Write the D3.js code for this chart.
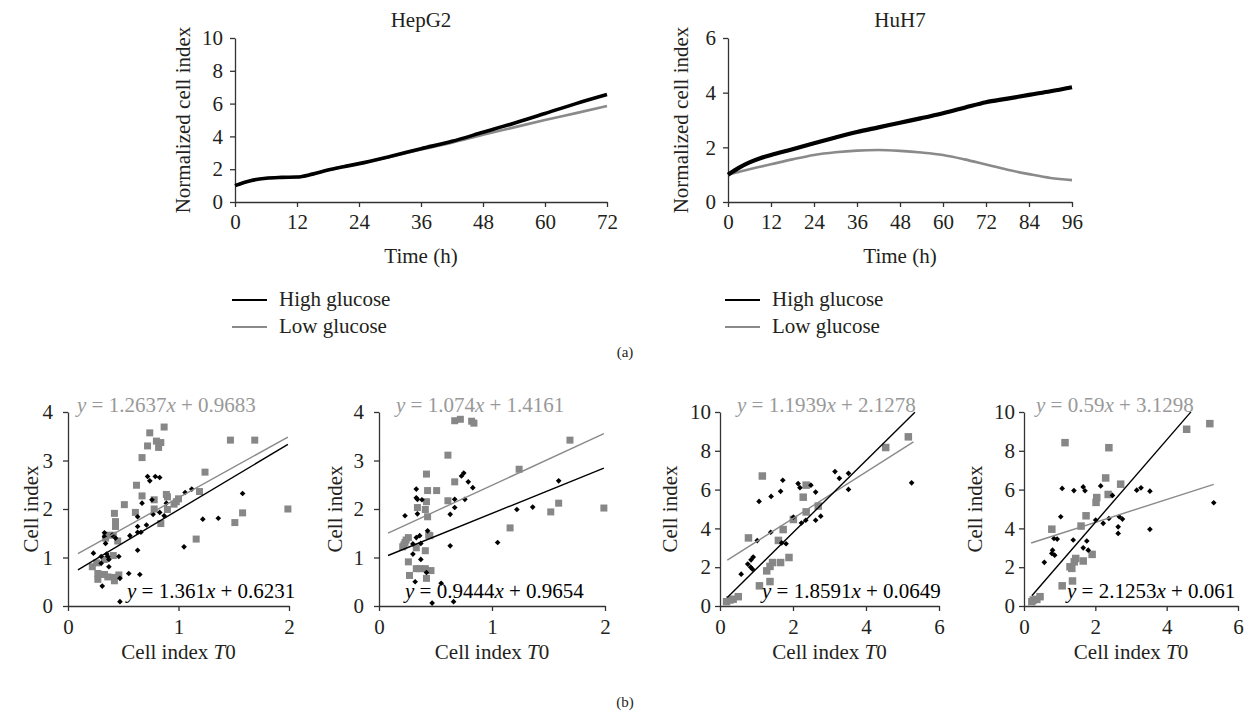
<!DOCTYPE html>
<html>
<head>
<meta charset="utf-8">
<script src="https://cdn.jsdelivr.net/npm/d3@7"></script>
<style>
  body { margin: 0; background: #fff; }
  svg text { font-family: "Liberation Serif", "DejaVu Serif", serif; }
</style>
</head>
<body>
<div id="chart"></div>
<script>
// ---------- data (a) ----------
const hepTime = [0, 3, 6, 9, 12, 15, 18, 21, 24, 30, 36, 42, 48, 54, 60, 66, 72]
const hepHigh = [1.0, 1.3, 1.45, 1.5, 1.52, 1.7, 1.95, 2.15, 2.34, 2.78, 3.25, 3.7, 4.25, 4.8, 5.4, 6.0, 6.55]
const hepLow  = [1.0, 1.3, 1.45, 1.5, 1.52, 1.7, 1.95, 2.15, 2.34, 2.76, 3.2, 3.62, 4.1, 4.55, 5.0, 5.42, 5.85]

const huhTime = [0, 3, 6, 9, 12, 18, 24, 30, 36, 42, 48, 54, 60, 66, 72, 78, 84, 90, 96]
const huhHigh = [1.0, 1.25, 1.45, 1.6, 1.72, 1.93, 2.15, 2.36, 2.56, 2.73, 2.9, 3.07, 3.25, 3.45, 3.65, 3.78, 3.92, 4.05, 4.2]
const huhLow  = [1.0, 1.1, 1.2, 1.29, 1.38, 1.56, 1.72, 1.82, 1.88, 1.9, 1.87, 1.81, 1.72, 1.56, 1.37, 1.18, 1.02, 0.88, 0.8]

const legendLabels = ["High glucose", "Low glucose"]

// ---------- data (b) ----------
const p1Black = [[0.72,2.67],[0.79,2.67],[0.83,2.65],[0.74,2.58],[1.06,2.34],[1.12,2.41],[1.58,2.32],[0.67,2.12],
  [0.76,2.19],[0.89,2.12],[0.63,1.84],[0.77,1.89],[0.83,1.93],[0.87,1.86],[1.22,1.79],[1.36,1.81],[0.71,1.67],
  [0.63,1.64],[0.63,1.52],[0.66,1.52],[0.56,1.45],[0.33,1.51],[0.33,1.43],[0.34,1.29],[0.40,1.46],[0.43,1.40],
  [0.63,1.15],[1.05,1.22],[0.23,1.09],[0.30,1.02],[0.35,1.07],[0.36,1.02],[0.46,1.02],[0.37,0.96],[0.30,0.88],
  [0.37,0.81],[0.47,0.57],[0.55,0.67],[0.65,0.65],[0.31,0.41],[0.47,0.09]]
const p1Gray = [[0.74,3.57],[0.87,3.69],[0.72,3.30],[0.80,3.40],[0.84,3.37],[0.82,3.27],[0.67,3.06],[1.47,3.42],
  [1.69,3.42],[1.99,2.0],[1.24,2.76],[0.62,2.49],[0.67,2.27],[0.78,2.19],[0.89,2.30],[0.90,2.25],[1.00,2.21],
  [0.98,2.15],[0.96,2.10],[0.90,1.99],[0.78,2.0],[0.61,1.93],[0.51,2.09],[0.42,1.91],[0.43,1.74],[0.43,1.64],
  [0.84,1.70],[1.19,2.36],[1.51,1.72],[1.58,1.92],[1.16,1.38],[0.41,1.46],[0.34,1.40],[0.45,1.34],[0.41,1.04],
  [0.33,0.96],[0.26,0.89],[0.22,0.81],[0.27,0.67],[0.27,0.55],[0.33,0.65],[0.36,0.60],[0.42,0.59],[0.42,0.52],
  [0.46,0.64],[0.35,1.46]]
const p1Fit = { black: [1.361, 0.6231], gray: [1.2637, 0.9683] }

const p2Black = [[0.75,2.74],[0.73,2.68],[0.79,2.56],[0.83,2.44],[0.33,2.41],[0.33,2.23],[0.34,2.20],[0.38,2.19],
  [0.23,1.86],[0.34,1.90],[0.67,2.20],[0.67,2.03],[0.76,2.20],[0.63,1.89],[0.43,1.55],[0.33,1.41],[0.36,1.45],
  [0.30,1.28],[0.37,1.29],[0.63,1.24],[1.05,1.31],[1.22,1.99],[1.36,2.04],[1.59,2.58],[0.30,1.07],[0.37,0.96],
  [0.42,0.69],[0.32,0.50],[0.55,0.47],[0.47,0.06],[0.66,0.09]]
const p2Gray = [[0.67,3.82],[0.72,3.85],[0.82,3.81],[0.84,3.77],[0.61,3.11],[0.67,2.56],[0.42,2.72],[0.43,2.38],
  [0.51,2.38],[0.61,2.17],[0.34,2.03],[0.42,2.15],[0.41,1.99],[0.43,1.84],[0.44,1.46],[0.45,1.45],[0.26,1.41],
  [0.24,1.36],[0.23,1.31],[0.22,1.26],[0.21,1.22],[0.33,1.20],[0.41,1.14],[0.26,0.91],[0.33,0.77],[0.36,0.77],
  [0.41,0.77],[0.46,0.73],[0.27,0.63],[0.42,0.57],[1.24,2.82],[1.16,1.61],[1.52,1.94],[1.59,2.12],[1.69,3.42],
  [1.99,2.02]]
const p2Fit = { black: [0.9444, 0.9654], gray: [1.074, 1.4161] }

const p3Black = [[1.07,5.39],[1.40,5.65],[1.66,5.91],[1.72,6.48],[2.14,6.31],[2.19,6.10],[2.49,6.23],[2.62,5.87],
  [3.15,6.93],[3.27,6.58],[3.52,6.84],[3.52,6.01],[2.01,4.58],[2.23,4.28],[2.35,4.42],[2.62,4.42],[2.76,4.63],
  [1.39,3.80],[1.02,3.37],[1.69,3.25],[1.81,3.21],[0.91,2.52],[0.85,2.38],[0.76,2.16],[0.84,2.00],[0.89,1.90],
  [0.58,1.64],[5.25,6.35]]
const p3Gray = [[1.16,6.70],[0.78,3.51],[2.01,4.46],[1.73,3.94],[1.60,3.38],[2.36,6.23],[2.28,5.61],[2.69,5.15],
  [2.36,4.85],[1.89,2.50],[1.66,2.24],[1.44,2.24],[1.37,2.04],[1.28,1.81],[1.08,1.04],[1.37,1.26],[5.16,8.72],
  [4.54,8.17],[0.50,0.48],[0.27,0.31],[0.18,0.22],[0.36,0.35]]
const p3Fit = { black: [1.8591, 0.0649], gray: [1.1939, 2.1278] }

const p4Black = [[1.07,6.06],[1.40,5.95],[1.66,6.14],[1.71,5.94],[2.15,6.19],[2.48,5.70],[3.16,5.97],[3.28,6.09],
  [3.53,5.92],[5.32,5.32],[3.53,3.95],[1.03,4.60],[2.01,4.43],[2.22,4.26],[2.38,4.51],[2.67,4.60],[2.76,4.48],
  [2.64,4.08],[2.64,3.74],[0.84,3.48],[0.93,3.45],[1.38,3.40],[1.76,3.35],[1.66,3.00],[1.80,2.88],[0.80,2.88],
  [0.78,2.71],[0.86,2.62],[0.57,2.25]]
const p4Gray = [[1.15,8.42],[2.38,8.16],[4.56,9.11],[5.21,9.40],[2.29,6.60],[2.71,6.28],[2.04,5.59],[2.02,5.34],
  [2.36,5.75],[1.74,4.65],[1.60,4.12],[0.78,3.96],[1.91,2.66],[1.66,2.32],[1.45,2.45],[1.41,2.28],[1.29,2.02],
  [1.34,1.94],[1.36,1.29],[1.07,1.04],[0.45,0.48],[0.26,0.31],[0.36,0.34],[0.22,0.22]]
const p4Fit = { black: [2.1253, 0.061], gray: [0.59, 3.1298] }

// ---------- setup ----------
const W = 1250, H = 714
const BLACK = "#000", GRAY = "#8a8a8a", AXIS = "#333", TXT = "#231f20"
const FONT = "Liberation Serif, DejaVu Serif, serif"
const FS = 21

const svg = d3.select("#chart").append("svg")
  .attr("width", W).attr("height", H)
  .attr("font-family", FONT)
  .attr("font-size", FS)
  .attr("fill", TXT)

function styleAxis(g){
  g.attr("font-family", FONT).attr("font-size", FS)
  g.select(".domain").attr("stroke", AXIS).attr("stroke-width", 1.3)
  g.selectAll(".tick line").attr("stroke", AXIS).attr("stroke-width", 1.3)
  g.selectAll(".tick text").attr("fill", TXT)
}

// ---------- (a) time course panels ----------
function timePanel(cfg){
  const x = d3.scaleLinear().domain(cfg.xDomain).range([cfg.left, cfg.right])
  const y = d3.scaleLinear().domain(cfg.yDomain).range([cfg.bottom, cfg.top])
  const g = svg.append("g")

  g.append("g").attr("transform", "translate(0," + cfg.bottom + ")")
    .call(d3.axisBottom(x).tickValues(cfg.xTicks).tickFormat(d3.format("d"))
      .tickSize(5).tickPadding(7).tickSizeOuter(0))
    .call(styleAxis)
  g.append("g").attr("transform", "translate(" + cfg.left + ",0)")
    .call(d3.axisLeft(y).tickValues(cfg.yTicks).tickFormat(d3.format("d"))
      .tickSize(5).tickPadding(7).tickSizeOuter(0))
    .call(styleAxis)

  const line = d3.line().x(d => x(d[0])).y(d => y(d[1])).curve(d3.curveMonotoneX)
  g.append("path").datum(d3.zip(cfg.time, cfg.low))
    .attr("d", line).attr("fill", "none").attr("stroke", GRAY).attr("stroke-width", 2.6)
  g.append("path").datum(d3.zip(cfg.time, cfg.high))
    .attr("d", line).attr("fill", "none").attr("stroke", BLACK).attr("stroke-width", cfg.highWidth)

  const midX = (cfg.left + cfg.right) / 2
  g.append("text").attr("x", midX).attr("y", 27).attr("text-anchor", "middle").text(cfg.title)
  g.append("text").attr("x", midX).attr("y", 263).attr("text-anchor", "middle").text("Time (h)")
  g.append("text")
    .attr("transform", "translate(" + cfg.yLabelX + "," + ((cfg.top + cfg.bottom) / 2) + ") rotate(-90)")
    .attr("text-anchor", "middle").text("Normalized cell index")

  // legend
  const lg = g.append("g").attr("transform", "translate(" + cfg.legendX + ",300)")
  legendLabels.forEach((lab, i) => {
    lg.append("line").attr("x1", 0).attr("x2", 35).attr("y1", i * 27).attr("y2", i * 27)
      .attr("stroke", i === 0 ? BLACK : GRAY).attr("stroke-width", i === 0 ? 2 : 2.2)
    lg.append("text").attr("x", 47).attr("y", i * 27 + 6).text(lab)
  })
}

timePanel({ title: "HepG2", time: hepTime, high: hepHigh, low: hepLow,
  xDomain: [0, 72], yDomain: [0, 10], xTicks: d3.range(0, 73, 12), yTicks: d3.range(0, 11, 2),
  left: 235, right: 607, top: 38, bottom: 202, yLabelX: 190, legendX: 232, highWidth: 3.6 })

timePanel({ title: "HuH7", time: huhTime, high: huhHigh, low: huhLow,
  xDomain: [0, 96], yDomain: [0, 6], xTicks: d3.range(0, 97, 12), yTicks: d3.range(0, 7, 2),
  left: 728, right: 1072, top: 38, bottom: 202, yLabelX: 688, legendX: 725, highWidth: 4.2 })

svg.append("text").attr("x", 625).attr("y", 357).attr("text-anchor", "middle")
  .attr("font-size", 15).text("(a)")

// ---------- (b) scatter panels ----------
function equation(g, xPos, yPos, fit, color){
  const t = g.append("text").attr("x", xPos).attr("y", yPos).attr("fill", color)
  t.append("tspan").attr("font-style", "italic").text("y")
  t.append("tspan").text(" = " + fit[0])
  t.append("tspan").attr("font-style", "italic").text("x")
  t.append("tspan").text(" + " + fit[1])
}

function scatterPanel(cfg){
  const x = d3.scaleLinear().domain(cfg.xDomain).range([cfg.left, cfg.right])
  const y = d3.scaleLinear().domain(cfg.yDomain).range([606, 412])
  const g = svg.append("g")

  g.append("g").attr("transform", "translate(0,606)")
    .call(d3.axisBottom(x).tickValues(cfg.xTicks).tickFormat(d3.format("d"))
      .tickSize(5).tickPadding(8).tickSizeOuter(0))
    .call(styleAxis)
  g.append("g").attr("transform", "translate(" + cfg.left + ",0)")
    .call(d3.axisLeft(y).tickValues(cfg.yTicks).tickFormat(d3.format("d"))
      .tickSize(5).tickPadding(cfg.yPad).tickSizeOuter(0))
    .call(styleAxis)

  // gray squares
  g.append("g").selectAll("rect").data(cfg.gray).join("rect")
    .attr("x", d => x(d[0]) - cfg.sq / 2).attr("y", d => y(d[1]) - cfg.sq / 2)
    .attr("width", cfg.sq).attr("height", cfg.sq).attr("fill", "#878787")
  // black diamonds (rotated squares)
  const diamond = d3.symbol(d3.symbolSquare, 16)
  g.append("g").selectAll("path").data(cfg.black).join("path")
    .attr("transform", d => "translate(" + x(d[0]) + "," + y(d[1]) + ") rotate(45)")
    .attr("d", diamond).attr("fill", BLACK)

  // trend lines
  const fitLine = (fit, r) => r.map(v => [v, fit[0] * v + fit[1]])
  const lineGen = d3.line().x(d => x(d[0])).y(d => y(d[1]))
  g.append("path").attr("d", lineGen(fitLine(cfg.fit.gray, cfg.grayRange)))
    .attr("stroke", GRAY).attr("stroke-width", 1.4).attr("fill", "none")
  g.append("path").attr("d", lineGen(fitLine(cfg.fit.black, cfg.blackRange)))
    .attr("stroke", BLACK).attr("stroke-width", 1.4).attr("fill", "none")

  equation(g, cfg.grayEqX, 412, cfg.fit.gray, "#999")
  equation(g, cfg.blackEqX, 598, cfg.fit.black, "#000")

  g.append("text")
    .attr("transform", "translate(" + cfg.yLabelX + ",509) rotate(-90)")
    .attr("text-anchor", "middle").text("Cell index")
  const xl = g.append("text").attr("x", (cfg.left + cfg.right) / 2).attr("y", 659).attr("text-anchor", "middle")
  xl.append("tspan").text("Cell index ")
  xl.append("tspan").attr("font-style", "italic").text("T")
  xl.append("tspan").text("0")
}

scatterPanel({ black: p1Black, gray: p1Gray, fit: p1Fit, xDomain: [0, 2], yDomain: [0, 4],
  xTicks: [0, 1, 2], yTicks: [0, 1, 2, 3, 4], left: 68, right: 289, yPad: 10, sq: 7,
  grayRange: [0.09, 1.99], blackRange: [0.09, 1.99], grayEqX: 77, blackEqX: 127, yLabelX: 38 })

scatterPanel({ black: p2Black, gray: p2Gray, fit: p2Fit, xDomain: [0, 2], yDomain: [0, 4],
  xTicks: [0, 1, 2], yTicks: [0, 1, 2, 3, 4], left: 379, right: 605, yPad: 10, sq: 7,
  grayRange: [0.08, 1.99], blackRange: [0.08, 1.99], grayEqX: 396, blackEqX: 405, yLabelX: 342 })

scatterPanel({ black: p3Black, gray: p3Gray, fit: p3Fit, xDomain: [0, 6], yDomain: [0, 10],
  xTicks: [0, 2, 4, 6], yTicks: [0, 2, 4, 6, 8, 10], left: 720, right: 939, yPad: 4, sq: 7.5,
  grayRange: [0.2, 5.3], blackRange: [0.2, 5.34], grayEqX: 737, blackEqX: 762, yLabelX: 677 })

scatterPanel({ black: p4Black, gray: p4Gray, fit: p4Fit, xDomain: [0, 6], yDomain: [0, 10],
  xTicks: [0, 2, 4, 6], yTicks: [0, 2, 4, 6, 8, 10], left: 1024, right: 1238, yPad: 4, sq: 7.5,
  grayRange: [0.2, 5.32], blackRange: [0.22, 4.68], grayEqX: 1036, blackEqX: 1067, yLabelX: 982 })

svg.append("text").attr("x", 625).attr("y", 707).attr("text-anchor", "middle")
  .attr("font-size", 15).text("(b)")
</script>
</body>
</html>
